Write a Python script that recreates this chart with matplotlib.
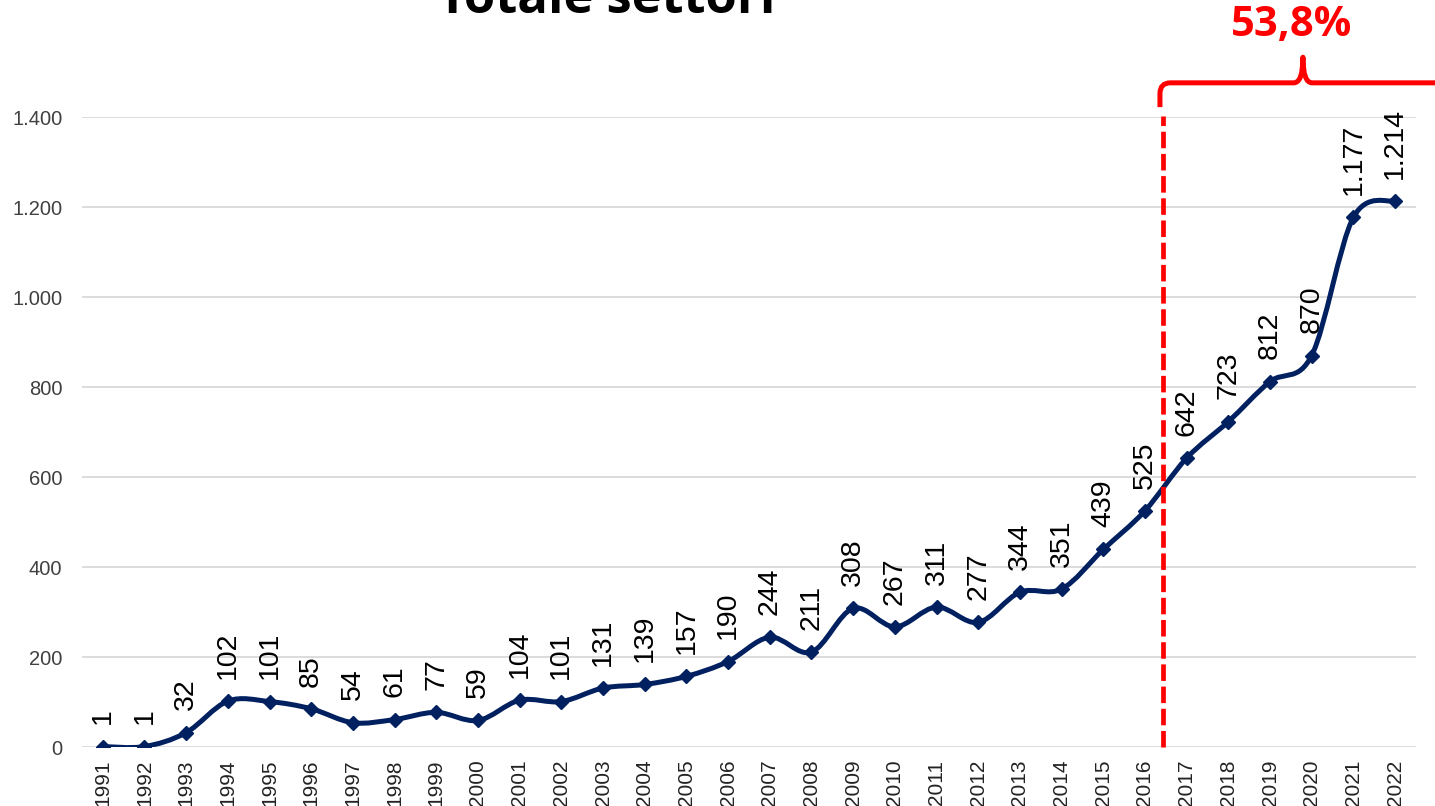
import numpy as np
import matplotlib
matplotlib.use("Agg")
from matplotlib import pyplot as plt
from matplotlib.path import Path
from matplotlib.patches import PathPatch

# dati
anni = list(range(1991, 2023))
valori = [1, 1, 32, 102, 101, 85, 54, 61, 77, 59, 104, 101, 131, 139, 157, 190,
          244, 211, 308, 267, 311, 277, 344, 351, 439, 525, 642, 723, 812, 870, 1177, 1214]
y_ticks = [0, 200, 400, 600, 800, 1000, 1200, 1400]
titolo = "Totale settori"
crescita = "53,8%"

navy = '#002060'
rosso = '#ff0000'


def fmt_it(v):
    return f"{v:,}".replace(',', '.')


def smooth_path(xs, ys):
    # curva smussata tipo Excel (Catmull-Rom -> Bezier)
    pts = np.column_stack([xs, ys]).astype(float)
    n = len(pts)
    verts = [pts[0]]
    codes = [Path.MOVETO]
    for i in range(n - 1):
        p0 = pts[i - 1] if i > 0 else pts[i]
        p1 = pts[i]
        p2 = pts[i + 1]
        p3 = pts[i + 2] if i + 2 < n else pts[i + 1]
        c1 = p1 + (p2 - p0) / 6
        c2 = p2 - (p3 - p1) / 6
        verts += [c1, c2, p2]
        codes += [Path.CURVE4] * 3
    return Path(verts, codes)


fig = plt.figure(figsize=(14.35, 8.06), dpi=100)
ax = fig.add_axes([0.0571, 0.0732, 0.9296, 0.7816])

# linea smussata + marker
ax.add_patch(PathPatch(smooth_path(anni, valori), facecolor='none', edgecolor=navy, lw=3.6,
                       capstyle='round', joinstyle='round', zorder=3))
ax.plot(anni, valori, linestyle='none', marker='D', markersize=7.5, color=navy, zorder=4)

# etichette dati
for x, v in zip(anni, valori):
    ax.annotate(fmt_it(v), (x, v), xytext=(0, 16), textcoords='offset points',
                rotation=90, ha='center', va='bottom', fontsize=20.5,
                family='Liberation Sans', color='black', zorder=5)

# assi
ax.set_xlim(1990.5, 2022.5)
ax.set_ylim(0, 1400)
ax.set_xticks(anni)
ax.set_xticklabels([str(a) for a in anni], rotation=90, fontsize=15, family='Liberation Sans',
                   color='#222222')
ax.set_yticks(y_ticks)
ax.set_yticklabels([fmt_it(t) for t in y_ticks], fontsize=14.5, family='Liberation Sans',
                   color='#404040')
ax.tick_params(axis='both', length=0)
ax.tick_params(axis='x', pad=9)
ax.tick_params(axis='y', pad=14)
ax.grid(axis='y', color='#d9d9d9', lw=1.3)
ax.set_axisbelow(True)
for s in ax.spines.values():
    s.set_visible(False)

# linea tratteggiata rossa + parentesi
x_cut = 2016.43
ax.plot([x_cut, x_cut], [0, 1402], color=rosso, lw=3.4, dashes=(3.5, 1.2), clip_on=False, zorder=6)

x0, y_h, x_p = 2016.36, 1476, 2019.79
verts = [(x0, 1422), (x0, y_h - 24), (x0, y_h), (x0 + 0.25, y_h),
         (x_p - 0.22, y_h), (x_p, y_h), (x_p, 1533),
         (x_p, y_h), (x_p + 0.22, y_h), (2024.5, y_h)]
codes = [Path.MOVETO, Path.LINETO, Path.CURVE3, Path.CURVE3,
         Path.LINETO, Path.CURVE3, Path.CURVE3,
         Path.CURVE3, Path.CURVE3, Path.LINETO]
ax.add_patch(PathPatch(Path(verts, codes), facecolor='none', edgecolor=rosso, lw=3.6,
                       clip_on=False, joinstyle='round', zorder=6))
ax.text(x_p - 0.27, 1604, crescita, ha='center', va='center', fontsize=30, fontweight='bold',
        family='Open Sans', color=rosso)

# titolo (tagliato in alto come nell'originale)
fig.text(0.423, 0.984, titolo, ha='center', va='baseline', fontsize=36.5, fontweight='bold',
         family='Open Sans', color='black')

fig.savefig('out.png', dpi=100)
